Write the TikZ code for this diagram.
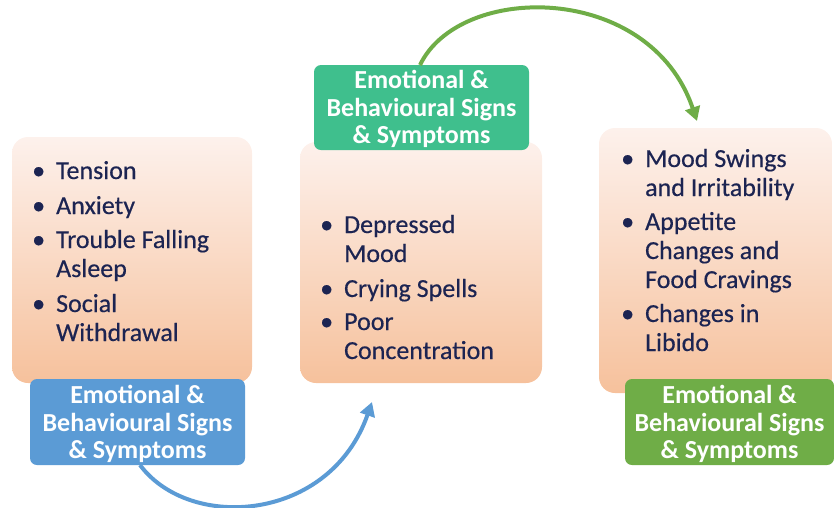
\documentclass[tikz,border=0pt]{standalone}
\usepackage{fontspec}
\setmainfont{Carlito}
\newfontfamily\listfont[FakeBold=0.4]{Carlito}
\usetikzlibrary{arrows.meta}
\definecolor{navy}{HTML}{1C2452}
\definecolor{peachtop}{HTML}{FDF1EC}
\definecolor{peachbot}{HTML}{F6C19C}
\definecolor{lblblue}{HTML}{5B9BD5}
\definecolor{lblteal}{HTML}{3FBF8D}
\definecolor{lblgreen}{HTML}{6FAD47}
\begin{document}
\begin{tikzpicture}[x=1pt,y=-1pt,
  card/.style={rounded corners=16pt,top color=peachtop,bottom color=peachbot},
  tag/.style={rounded corners=7pt,fill=#1},
  tagtext/.style={text=white,font=\fontsize{26}{27.5}\selectfont\bfseries,align=center,inner sep=0pt},
  listtext/.style={text=navy,font=\listfont\fontsize{26}{29}\selectfont,anchor=base west,inner sep=0pt},
  flow/.style={line width=4pt,draw=#1,-{Triangle[length=14pt,width=15pt]}}]
\useasboundingbox (0,0) rectangle (834,507);
% list cards
\path[card] (12,137) rectangle (252,383);
\path[card] (300,142) rectangle (542,383);
\path[card] (599,128) rectangle (832,393);
\node[listtext] (listA) at (32,179) {\begin{tabular}[t]{@{}l@{\hspace{11pt}}l@{}}
\textbullet & Tension\\[6pt]
\textbullet & Anxiety\\[5pt]
\textbullet & Trouble Falling\\
 & Asleep\\[6pt]
\textbullet & Social\\
 & Withdrawal
\end{tabular}};
\node[listtext] (listB) at (320,233) {\begin{tabular}[t]{@{}l@{\hspace{11pt}}l@{}}
\textbullet & Depressed\\
 & Mood\\[6pt]
\textbullet & Crying Spells\\[4pt]
\textbullet & Poor\\
 & Concentration
\end{tabular}};
\node[listtext] (listC) at (621,167) {\begin{tabular}[t]{@{}l@{\hspace{11pt}}l@{}}
\textbullet & Mood Swings\\
 & and Irritability\\[5pt]
\textbullet & Appetite\\
 & Changes and\\
 & Food Cravings\\[5pt]
\textbullet & Changes in\\
 & Libido
\end{tabular}};
% heading tags
\path[tag=lblblue] (30,379) rectangle (245,465);
\path[tag=lblteal] (314,65) rectangle (529,150);
\path[tag=lblgreen] (625,379) rectangle (834,465);
\node[tagtext] (tagA) at (137.5,424) {Emotional \&\\Behavioural Signs\\\& Symptoms};
\node[tagtext] (tagB) at (421.5,109) {Emotional \&\\Behavioural Signs\\\& Symptoms};
\node[tagtext] (tagC) at (729.5,424) {Emotional \&\\Behavioural Signs\\\& Symptoms};
% flow arrows
\coordinate (fromA) at (140,465);
\coordinate (toB) at (372,402);
\coordinate (fromB) at (420,65);
\coordinate (toC) at (697,121);
\draw[flow=lblblue] (fromA) .. controls (190,532) and (330,522) .. (toB);
\draw[flow=lblgreen] (fromB) .. controls (460,-18) and (650,-18) .. (toC);
\end{tikzpicture}
\end{document}
